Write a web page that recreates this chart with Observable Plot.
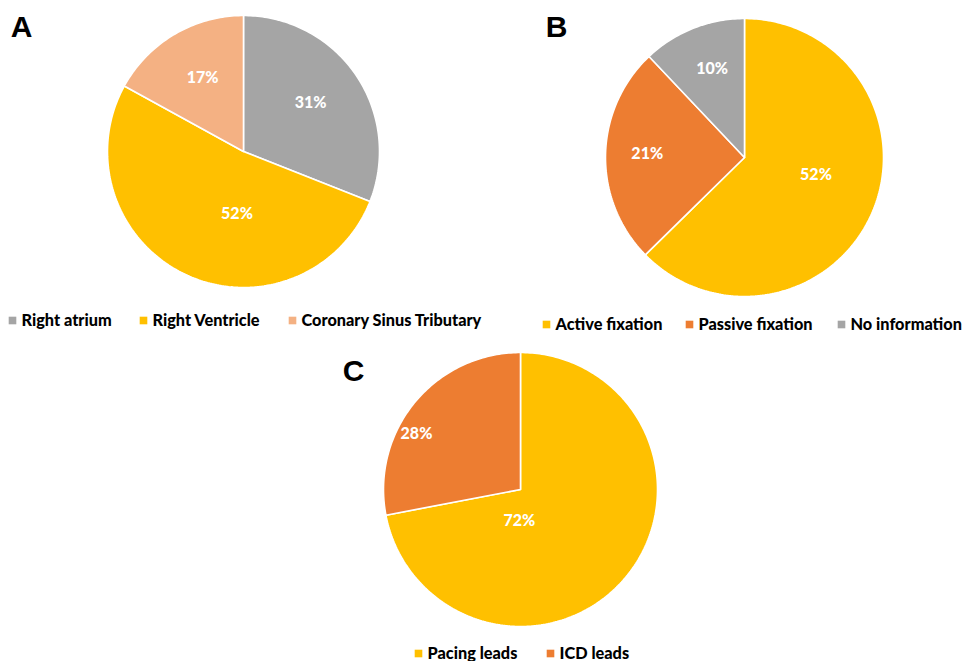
<!DOCTYPE html>
<html><head><meta charset="utf-8">
<script src="https://cdn.jsdelivr.net/npm/d3@7"></script>
<script src="https://cdn.jsdelivr.net/npm/@observablehq/plot@0.6"></script>
<style>body{margin:0;background:#fff;overflow:hidden}</style>
</head><body><div id="chart"></div>
<script>
// ---- data ----
const panelLetters = ["A", "B", "C"];
const panelA_categories = ["Right atrium", "Right Ventricle", "Coronary Sinus Tributary"];
const panelA_values = [31, 52, 17];
const panelB_categories = ["Active fixation", "Passive fixation", "No information"];
const panelB_values = [52, 21, 10];
const panelC_categories = ["Pacing leads", "ICD leads"];
const panelC_values = [72, 28];

// ---- styles ----
const GRAY = "#A5A5A5", YELLOW = "#FFC000", ORANGE = "#ED7D31", SALMON = "#F4B183";
const panelA_colors = [GRAY, YELLOW, SALMON];
const panelB_colors = [YELLOW, ORANGE, GRAY];
const panelC_colors = [YELLOW, ORANGE];

// ---- layout (pixel positions of each panel) ----
const layout = [
  {cx: 243, cy: 151, r: 136, letter: [21, 27], legendY: 320, legendX: [12, 143, 292],
   labelPolar: [[54, 0.61], [186, 0.46], [331, 0.62]]},
  {cx: 744, cy: 157, r: 139, letter: [556, 27], legendY: 324, legendX: [546, 689, 841],
   labelPolar: [[104, 0.53], [272, 0.70], [340, 0.68]]},
  {cx: 520, cy: 489, r: 137, letter: [353, 371], legendY: 653, legendX: [418, 550],
   labelPolar: [[182, 0.23], [298, 0.86]]}
];

const panels = [
  {cats: panelA_categories, vals: panelA_values, cols: panelA_colors},
  {cats: panelB_categories, vals: panelB_values, cols: panelB_colors},
  {cats: panelC_categories, vals: panelC_values, cols: panelC_colors}
];

const slicePts = [], labels = [], legendSq = [], legendTx = [], letters = [];
const pie = d3.pie().sort(null).startAngle(0).endAngle(2 * Math.PI);
panels.forEach((p, pi) => {
  const L = layout[pi];
  const arcs = pie(p.vals);
  arcs.forEach((a, i) => {
    const key = pi + "-" + i;
    const n = Math.max(4, Math.ceil((a.endAngle - a.startAngle) / (Math.PI / 180)));
    slicePts.push({key, color: p.cols[i], x: L.cx, y: L.cy});
    for (let k = 0; k <= n; k++) {
      const t = a.startAngle + (a.endAngle - a.startAngle) * k / n;
      slicePts.push({key, color: p.cols[i], x: L.cx + L.r * Math.sin(t), y: L.cy - L.r * Math.cos(t)});
    }
    slicePts.push({key, color: p.cols[i], x: L.cx, y: L.cy});
    const [deg, f] = L.labelPolar[i];
    const ang = deg * Math.PI / 180;
    labels.push({x: L.cx + f * L.r * Math.sin(ang), y: L.cy - f * L.r * Math.cos(ang), text: p.vals[i] + "%"});
    legendSq.push({x: L.legendX[i], y: L.legendY, color: p.cols[i]});
    legendTx.push({x: L.legendX[i] + 9, y: L.legendY, text: p.cats[i]});
  });
  letters.push({x: L.letter[0], y: L.letter[1], text: panelLetters[pi]});
});

const chart = Plot.plot({
  width: 962, height: 661,
  margin: 0,
  x: {type: "linear", domain: [0, 962], range: [0, 962], axis: null},
  y: {type: "linear", domain: [0, 661], range: [0, 661], axis: null},
  color: {type: "identity"},
  style: {background: "#fff", fontFamily: "Lato, sans-serif"},
  marks: [
    Plot.line(slicePts, {x: "x", y: "y", z: "key", fill: "color", stroke: "white", strokeWidth: 1.6, strokeLinejoin: "miter"}),
    Plot.text(labels, {x: "x", y: "y", text: "text", fill: "white", fontSize: 16, fontWeight: 900, fontFamily: "Lato, sans-serif"}),
    Plot.dot(legendSq, {x: "x", y: "y", fill: "color", symbol: "square", r: 4.3}),
    Plot.text(legendTx, {x: "x", y: "y", text: "text", textAnchor: "start", fill: "black", fontSize: 16.3, fontWeight: 900, fontFamily: "Lato, sans-serif"}),
    Plot.text(letters, {x: "x", y: "y", text: "text", fill: "black", fontSize: 30, fontWeight: "bold", fontFamily: "Liberation Sans, Arial, sans-serif"})
  ]
});
document.getElementById("chart").appendChild(chart);
</script>
</body></html>
